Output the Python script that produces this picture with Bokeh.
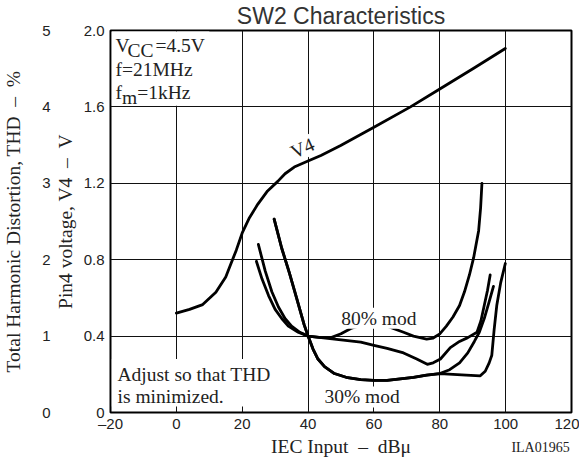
from bokeh.plotting import figure
from bokeh.models import (Range1d, LinearAxis, FixedTicker, CustomJSTickFormatter,
                          Label, BoxAnnotation)
from bokeh.embed import file_html
from bokeh.resources import INLINE

# ---- tick values ----
x_ticks = [-20, 0, 20, 40, 60, 80, 100, 120]
v4_ticks = [0, 0.4, 0.8, 1.2, 1.6, 2.0]
thd_ticks = [0, 1, 2, 3, 4, 5]

# ---- V4 curve (V) vs IEC input (dBu) ----
v4_x = [0, 4, 8, 12, 15, 16.6, 18.2, 20, 22.2, 24.7, 27.7, 30.8, 33, 35.8, 39.8, 43.9, 49.9,
        60, 71.1, 80, 90.3, 99.9]
v4_y = [0.52, 0.54, 0.565, 0.63, 0.71, 0.78, 0.85, 0.94, 1.02, 1.09, 1.16, 1.21, 1.25, 1.285,
        1.315, 1.346, 1.398, 1.493, 1.60, 1.694, 1.802, 1.906]

# ---- THD curves (%) ----
thd80a_x = [24.9, 27, 29, 31, 33, 35, 37.5, 40, 44, 47, 50, 53, 56, 60, 64, 69, 72, 76, 78,
            80, 82, 84, 86, 87.5, 89, 90.3, 91.8, 92.4, 92.8]
thd80a_y = [2.2, 1.85, 1.58, 1.38, 1.23, 1.13, 1.05, 1.0, 0.98, 0.98, 1.03, 1.1, 1.14, 1.15,
            1.13, 1.05, 1.0, 0.96, 0.975, 1.03, 1.13, 1.25, 1.4, 1.58, 1.8, 2.03, 2.38, 2.68, 3.0]

thd80b_x = [24.3, 26, 28, 30, 32, 34, 37, 40, 44, 48, 52, 56, 60, 64, 69, 73, 76.2, 78, 80.2,
            83.2, 86, 88.5, 91.3, 92.5, 93.5, 94.5, 95.3]
thd80b_y = [1.98, 1.75, 1.53, 1.35, 1.23, 1.13, 1.05, 1.0, 0.98, 0.96, 0.94, 0.92, 0.88, 0.84,
            0.78, 0.7, 0.63, 0.65, 0.7, 0.85, 0.93, 0.98, 1.05, 1.2, 1.4, 1.6, 1.8]

thd30a_x = [29.7, 32, 34.3, 36.5, 38.8, 40, 41.5, 43, 45, 48, 52, 56, 60, 64, 68, 72, 76, 80,
            83, 86, 88.5, 90.5, 92, 93.5, 95, 96.3]
thd30a_y = [2.53, 2.15, 1.83, 1.5, 1.15, 1.0, 0.83, 0.7, 0.6, 0.51, 0.455, 0.43, 0.42, 0.42,
            0.44, 0.46, 0.49, 0.51, 0.56, 0.65, 0.78, 0.93, 1.05, 1.23, 1.45, 1.65]

thd30b_x = [29.7, 32, 34.3, 36.5, 38.8, 40, 41.5, 43, 45, 48, 52, 56, 60, 64, 68, 72, 76, 80,
            84, 88, 92.3, 93.8, 95, 95.8, 96.5, 97.3, 98.5, 99.9]
thd30b_y = [2.53, 2.15, 1.83, 1.5, 1.15, 1.0, 0.83, 0.7, 0.6, 0.51, 0.455, 0.43, 0.42, 0.42,
            0.44, 0.46, 0.49, 0.51, 0.5, 0.49, 0.48, 0.54, 0.65, 0.75, 1.08, 1.4, 1.7, 1.95]

figure_code = "ILA01965"
figure_code_x = 110.6

SANS = "Liberation Sans"
SERIF = "Liberation Serif"
TXT = "#222222"
SERIF_SIZE = "19.5px"

p = figure(width=579, height=459, output_backend="svg", toolbar_location=None,
           x_range=Range1d(-20, 120), y_range=Range1d(0, 2.0),
           min_border_left=110, min_border_right=8, min_border_top=30, min_border_bottom=46)
p.extra_y_ranges = {"thd": Range1d(0, 5)}
p.background_fill_color = "white"
p.border_fill_color = "white"
p.outline_line_color = "black"
p.outline_line_width = 2

# title
p.title.text = "SW2 Characteristics"
p.title.align = "center"
p.title.vertical_align = "top"
p.title.text_font = SANS
p.title.text_font_size = "23px"
p.title.text_font_style = "normal"
p.title.text_color = "#333333"
p.title.standoff = 0

# grid
p.xgrid.ticker = FixedTicker(ticks=x_ticks)
p.ygrid.ticker = FixedTicker(ticks=v4_ticks)
for g in (p.xgrid, p.ygrid):
    g.grid_line_color = "#111111"
    g.grid_line_width = 1
    g.grid_line_alpha = 1.0

def style_axis(ax):
    ax.major_tick_out = 0
    ax.major_tick_in = 0
    ax.minor_tick_out = 0
    ax.minor_tick_in = 0
    ax.axis_line_color = None
    ax.major_label_text_font = SANS
    ax.major_label_text_font_size = "15px"
    ax.major_label_text_color = TXT
    ax.axis_label_text_font = SERIF
    ax.axis_label_text_font_size = SERIF_SIZE
    ax.axis_label_text_font_style = "normal"
    ax.axis_label_text_color = TXT

# x axis
xa = p.xaxis[0]
style_axis(xa)
xa.ticker = FixedTicker(ticks=x_ticks)
xa.formatter = CustomJSTickFormatter(code="return tick < 0 ? '\\u2013' + (-tick) : String(tick);")
xa.major_label_standoff = 2
xa.axis_label = "IEC Input\u2002\u2013\u2002dB\u03bc"
xa.axis_label_standoff = 1

# figure code under the axis (as a tick label of a second, invisible axis)
ca = LinearAxis(ticker=FixedTicker(ticks=[figure_code_x]),
                formatter=CustomJSTickFormatter(code="return '%s';" % figure_code))
style_axis(ca)
ca.major_label_text_font = SERIF
ca.major_label_text_font_size = "14px"
ca.major_label_standoff = -20
p.add_layout(ca, "below")

# V4 axis
ya = p.yaxis[0]
style_axis(ya)
ya.ticker = FixedTicker(ticks=v4_ticks)
ya.formatter = CustomJSTickFormatter(code="return tick == 0 ? '0' : tick.toFixed(1);")
ya.major_label_standoff = 6
ya.axis_label = "Pin4 voltage, V4\u2002\u2013\u2002V"
ya.axis_label_standoff = 5

# THD axis
ta = LinearAxis(y_range_name="thd", ticker=FixedTicker(ticks=thd_ticks),
                axis_label="Total Harmonic Distortion, THD\u2002\u2013\u2002%")
style_axis(ta)
ta.major_label_standoff = 1
ta.axis_label_standoff = 15
p.add_layout(ta, "left")

# curves
lw = 2.8
p.line(v4_x, v4_y, line_width=lw, line_color="black", line_join="round", line_cap="round")
for xs, ys in ((thd80a_x, thd80a_y), (thd80b_x, thd80b_y), (thd30a_x, thd30a_y), (thd30b_x, thd30b_y)):
    p.line(xs, ys, y_range_name="thd", line_width=lw, line_color="black",
           line_join="round", line_cap="round")

# white boxes behind notes
p.add_layout(BoxAnnotation(left=-19.6, right=10, bottom=1.606, top=1.995,
                           fill_color="white", fill_alpha=1.0, line_color=None))
p.add_layout(BoxAnnotation(left=-19.6, right=30.5, bottom=0.032, top=0.28,
                           fill_color="white", fill_alpha=1.0, line_color=None))

def note(text, x, y, xo, yo, size=SERIF_SIZE, font=SERIF, align="left", **kw):
    lab = Label(x=x, y=y, x_offset=xo, y_offset=yo, text=text, text_font=font,
                text_font_size=size, text_color=TXT, text_align=align,
                text_baseline="middle", **kw)
    p.add_layout(lab)

# condition box (anchored at frame top-left)
note("V", -20, 2.0, 5, -15.1)
note("CC", -20, 2.0, 17, -20.1)
note("=4.5V", -20, 2.0, 45, -15.1)
note("f=21MHz", -20, 2.0, 5, -39.4)
note("f", -20, 2.0, 5, -62.4)
note("m", -20, 2.0, 11.5, -67.4)
note("=1kHz", -20, 2.0, 26.7, -62.4)

# bottom-left note (anchored at frame bottom-left)
note("Adjust so that THD", -20, 0, 7, 37.9)
note("is minimized.", -20, 0, 7, 15.6)

# curve labels
note("V4", 38.3, 1.384, 0, 0, align="center", angle=0.42, background_fill_color="white")
note("80% mod", 61.5, 0.494, 0, 0, align="center", background_fill_color="white")
note("30% mod", 56.4, 0.0815, 0, 0, align="center", background_fill_color="white")

open("out.html", "w").write(file_html(p, INLINE))
